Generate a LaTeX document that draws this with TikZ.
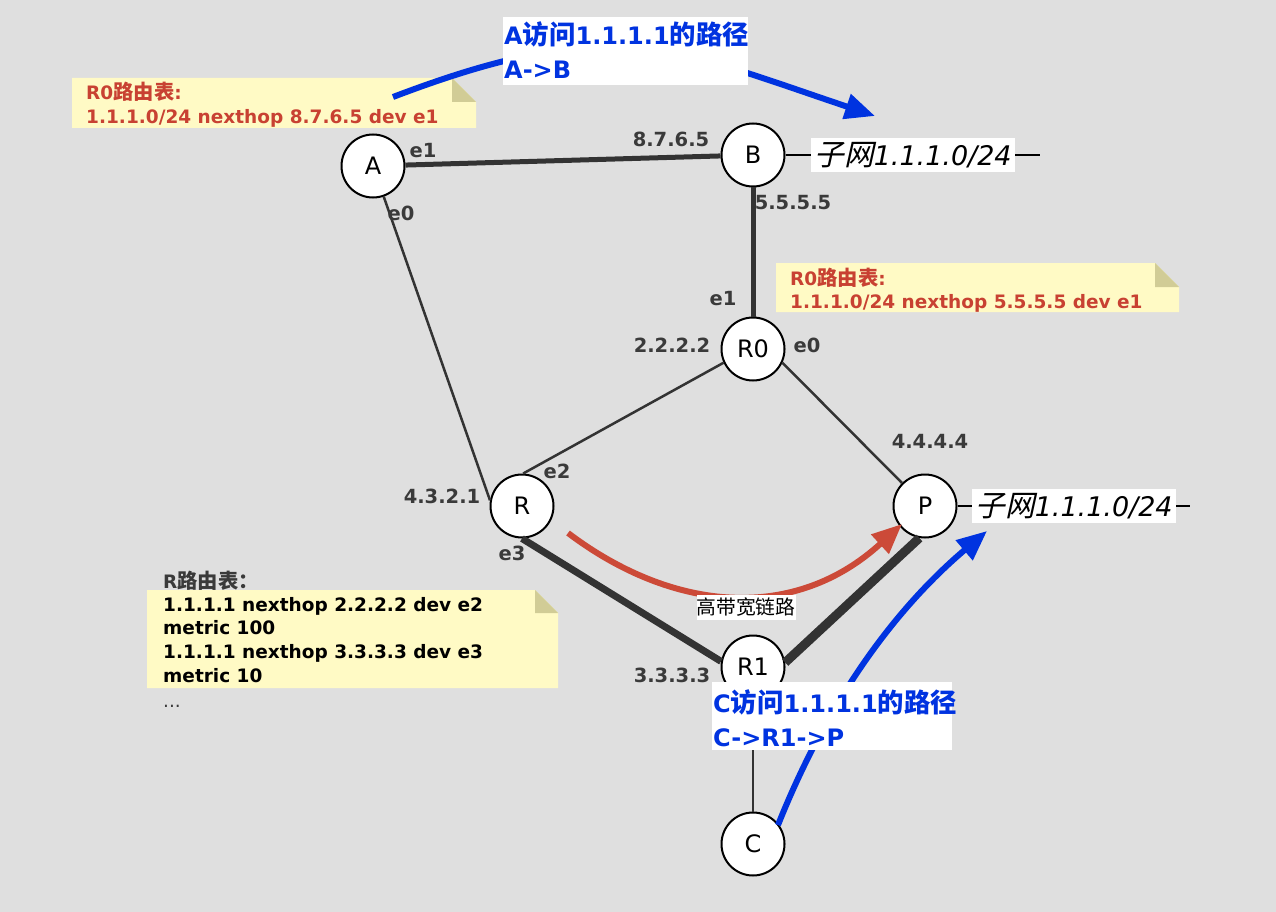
\documentclass[tikz,border=0pt]{standalone}
\usepackage{fontspec}
\setmainfont{DejaVu Sans}
\newfontfamily\cjk[Scale=1.1]{Noto Sans CJK SC}
\newfontfamily\cjkit[Scale=1.1,FakeSlant=0.22]{Noto Sans CJK SC}
\usetikzlibrary{arrows.meta}
\definecolor{bg}{RGB}{223,223,223}
\definecolor{edge}{RGB}{51,51,51}
\definecolor{labgray}{RGB}{58,58,58}
\definecolor{bluec}{RGB}{0,51,224}
\definecolor{redarrow}{RGB}{204,74,56}
\definecolor{redtxt}{RGB}{200,65,50}
\definecolor{notefill}{RGB}{255,250,197}
\definecolor{notefold}{RGB}{209,204,150}
\begin{document}
\begin{tikzpicture}[x=1pt,y=-1pt,
  dev/.style={circle,draw=black,line width=2pt,fill=white,minimum size=63pt,inner sep=0pt,font=\fontsize{24}{28}\selectfont},
  lnk/.style={draw=edge,line width=#1},
  lnk/.default=2.5pt,
  elab/.style={text=labgray,inner sep=0pt,font=\bfseries\fontsize{19.5}{22}\selectfont},
  ntxt/.style={inner sep=0pt,anchor=base west,font=\bfseries\fontsize{18.5}{22}\selectfont},
  btxt/.style={inner sep=0pt,anchor=base west,text=bluec,font=\bfseries\fontsize{24}{30}\selectfont},
  bbox/.style={fill=white,inner sep=0pt,anchor=north west,minimum width=#1,minimum height=68pt},
  subnet/.style={fill=white,inner xsep=3pt,inner ysep=0pt,minimum height=34pt,font=\itshape\fontsize{27}{30}\selectfont},
  parrow/.style={line width=6pt,-{Triangle[length=30pt,width=25pt]}},
]
\fill[bg] (0,0) rectangle (1276,912);

% notes
\fill[notefill] (72,78) -- (452,78) -- (476,102) -- (476,128) -- (72,128) -- cycle;
\fill[notefold] (452,78) -- (452,102) -- (476,102) -- cycle;
\fill[notefill] (776,263) -- (1155,263) -- (1179,287) -- (1179,312) -- (776,312) -- cycle;
\fill[notefold] (1155,263) -- (1155,287) -- (1179,287) -- cycle;
\fill[notefill] (147,590) -- (535,590) -- (558,613) -- (558,688) -- (147,688) -- cycle;
\fill[notefold] (535,590) -- (535,613) -- (558,613) -- cycle;

\node[ntxt,text=redtxt] (n1a) at (86,100) {R0{\cjk 路由表}:};
\node[ntxt,text=redtxt] (n1b) at (86,124) {1.1.1.0/24 nexthop 8.7.6.5 dev e1};
\node[ntxt,text=redtxt] (n2a) at (790,285) {R0{\cjk 路由表}:};
\node[ntxt,text=redtxt] (n2b) at (790,308) {1.1.1.0/24 nexthop 5.5.5.5 dev e1};
\node[ntxt,text=labgray] (n3h) at (163,588) {R{\cjk 路由表：}};
\node[ntxt,text=black] (n3a) at (163,611) {1.1.1.1 nexthop 2.2.2.2 dev e2};
\node[ntxt,text=black] (n3b) at (163,634) {metric 100};
\node[ntxt,text=black] (n3c) at (163,658) {1.1.1.1 nexthop 3.3.3.3 dev e3};
\node[ntxt,text=black] (n3d) at (163,682) {metric 10};
\node[ntxt,text=labgray,font=\fontsize{18.5}{22}\selectfont] (n3e) at (163,707) {...};

% devices
\node[dev] (A) at (373,166) {A};
\node[dev] (B) at (753,155) {B};
\node[dev] (R0) at (753,349) {R0};
\node[dev] (R) at (522,506) {R};
\node[dev] (P) at (925,506) {P};
\node[dev] (R1) at (753,667) {R1};
\node[dev] (C) at (753,844) {C};

% links
\draw[lnk=5pt] (A) -- (B);
\draw[lnk=5pt] (B) -- (R0);
\draw[lnk] (A) -- (R.170);
\draw[lnk] (R0.205) -- (R.88);
\draw[lnk] (R0.-25) -- (P.135);
\draw[lnk=7pt] (R.-90) -- (R1.170);
\draw[lnk=9pt] (R1.8) -- (P.-100);
\draw[lnk] (R1) -- (C);

% subnets
\coordinate (sB) at (1040,155);
\coordinate (sP) at (1190,506);
\draw[line width=2pt] (B) -- (sB);
\draw[line width=2pt] (P) -- (sP);
\node[subnet] (subB) at (913,155) {{\cjkit 子网}1.1.1.0/24};
\node[subnet] (subP) at (1074,506) {{\cjkit 子网}1.1.1.0/24};

% edge labels
\node[elab] (lAe1) at (423,151) {e1};
\node[elab] (lAe0) at (401,213) {e0};
\node[elab] (lB1) at (671,139) {8.7.6.5};
\node[elab] (lB2) at (793,203) {5.5.5.5};
\node[elab] (lR0e1) at (723,299) {e1};
\node[elab] (lR0a) at (672,345) {2.2.2.2};
\node[elab] (lR0e0) at (807,345) {e0};
\node[elab] (lP) at (930,441) {4.4.4.4};
\node[elab] (lR) at (442,496) {4.3.2.1};
\node[elab] (lRe2) at (557,471) {e2};
\node[elab] (lRe3) at (512,553) {e3};
\node[elab] (lR1) at (672,675) {3.3.3.3};

% path arrows
\coordinate (a1s) at (393,97);
\coordinate (a1e) at (875,116);
\draw[parrow,bluec] (a1s) .. controls (613,13) and (672,48) .. (a1e);
\coordinate (a2s) at (778,825);
\coordinate (a2e) at (987,531);
\draw[parrow,bluec] (a2s) .. controls (832,690) and (902,603) .. (a2e);
\coordinate (a3s) at (568,533);
\coordinate (a3e) at (902,524);
\draw[parrow,redarrow] (a3s) .. controls (674,613) and (795,622) .. (a3e);

% labels on top
\node[fill=white,inner xsep=0pt,inner ysep=0pt,minimum height=25pt,font=\fontsize{18}{20}\selectfont] (hb) at (746,607) {\cjk 高带宽链路};

\node[bbox=245pt] (boxA) at (503,17) {};
\node[btxt] (tA1) at (504,45) {A{\cjk 访问}1.1.1.1{\cjk 的路径}};
\node[btxt] (tA2) at (504,79) {A->B};
\node[bbox=240pt] (boxC) at (712,682) {};
\node[btxt] (tC1) at (713,712) {C{\cjk 访问}1.1.1.1{\cjk 的路径}};
\node[btxt] (tC2) at (713,746) {C->R1->P};
\end{tikzpicture}
\end{document}
